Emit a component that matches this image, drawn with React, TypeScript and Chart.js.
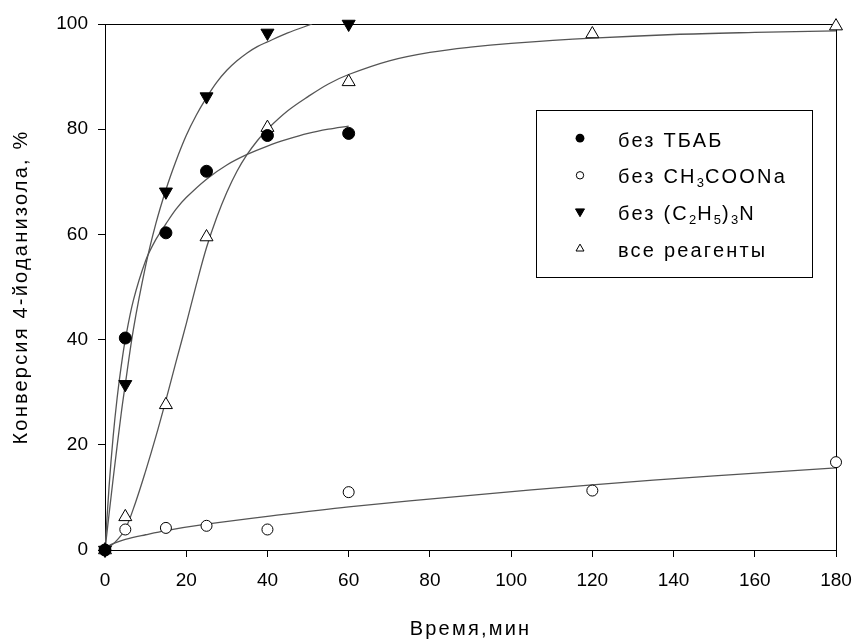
import React, { useEffect, useRef } from "react";
import { Chart, registerables } from "chart.js";

Chart.register(...registerables);

// Measured points
const tbabX = [0, 5, 15, 25, 40, 60];
const tbabY = [0, 40.3, 60.3, 72, 78.8, 79.2];
const acX = [0, 5, 15, 25, 40, 60, 120, 180];
const acY = [0, 3.9, 4.2, 4.6, 3.9, 11, 11.3, 16.7];
const amX = [0, 5, 15, 25, 40, 60];
const amY = [0, 31.5, 68.1, 86.2, 98.3, 100];
const allX = [0, 5, 15, 25, 40, 60, 120, 180];
const allY = [0, 6.3, 27.6, 59.5, 80.3, 89, 98.1, 99.6];

// Fitted curves
const tbabFitX = [0, 1, 2, 3, 4, 5, 7, 10, 12.5, 15, 17.5, 20, 25, 30, 35, 40, 45, 50, 55, 60];
const tbabFitY = [0, 12, 21.5, 29, 35, 40, 47.5, 55, 59, 62, 64.8, 67, 70.5, 73.2, 75.2, 76.8, 78.1, 79.2, 80, 80.6];
const acFitX = [0, 1, 2, 5, 10, 15, 25, 40, 60, 90, 120, 150, 180];
const acFitY = [0, 0.8, 1.2, 2, 2.9, 3.7, 4.9, 6.4, 8.2, 10.4, 12.4, 14.1, 15.6];
const amFitX = [0, 2, 4, 5, 7, 10, 12.5, 15, 17.5, 20, 22.5, 25, 27.5, 30, 32.5, 35, 37.5, 40, 45, 51];
const amFitY = [0, 13.5, 26, 31.5, 42, 54, 62, 68.5, 74, 78.8, 82.7, 86, 88.9, 91.2, 93, 94.5, 95.7, 96.6, 98.3, 100];
const allFitX = [0, 2.5, 5, 7.5, 10, 12.5, 15, 17.5, 20, 22.5, 25, 27.5, 30, 32.5, 35, 37.5, 40, 45, 50, 55, 60, 70, 80, 90, 100, 120, 140, 160, 180];
const allFitY = [0, 1.5, 4, 9, 15, 21.5, 28.5, 35.8, 43, 50.5, 57.5, 63.2, 68, 72, 75.2, 77.8, 80, 83.5, 86.2, 88.6, 90.4, 93, 94.6, 95.6, 96.3, 97.3, 98, 98.4, 98.7];

const xTicks = [0, 20, 40, 60, 80, 100, 120, 140, 160, 180];
const yTicks = [0, 20, 40, 60, 80, 100];

const xTitle = "Время,мин";
const yTitle = "Конверсия 4-йоданизола, %";

const FONT = "'Liberation Sans', Arial, sans-serif";

const zip = (xs: number[], ys: number[]) => xs.map((x, i) => ({ x, y: ys[i] }));

function drawSpaced(ctx: CanvasRenderingContext2D, text: string, x: number, y: number, size: number, spacing: number) {
  ctx.font = `${size}px ${FONT}`;
  (ctx as any).letterSpacing = `${spacing}px`;
  ctx.fillText(text, x, y);
  return ctx.measureText(text).width;
}

function drawRich(ctx: CanvasRenderingContext2D, parts: [string, boolean][], x: number, y: number) {
  let cx = x;
  ctx.textAlign = "left";
  ctx.textBaseline = "alphabetic";
  for (const [t, sub] of parts) {
    if (sub) {
      cx += drawSpaced(ctx, t, cx, y + 4, 13, 1);
    } else {
      cx += drawSpaced(ctx, t, cx, y, 20, 2.2);
    }
  }
}

const framePlugin = {
  id: "frame",
  beforeDatasetsDraw(chart: any) {
    const { ctx, chartArea } = chart;
    ctx.save();
    ctx.strokeStyle = "#000";
    ctx.lineWidth = 1;
    ctx.strokeRect(Math.round(chartArea.left) + 0.5, Math.round(chartArea.top) + 0.5,
      Math.round(chartArea.right - chartArea.left), Math.round(chartArea.bottom - chartArea.top));
    ctx.restore();
  },
  afterDraw(chart: any) {
    const { ctx, chartArea } = chart;
    ctx.save();
    ctx.fillStyle = "#000";
    ctx.textAlign = "center";
    ctx.textBaseline = "middle";
    drawSpaced(ctx, xTitle, (chartArea.left + chartArea.right) / 2, 629, 20, 2.2);
    ctx.save();
    ctx.translate(21, (chartArea.top + chartArea.bottom) / 2);
    ctx.rotate(-Math.PI / 2);
    drawSpaced(ctx, yTitle, 0, 0, 20, 2.2);
    ctx.restore();

    // Legend
    ctx.strokeStyle = "#000";
    ctx.lineWidth = 1;
    ctx.strokeRect(536.5, 110.5, 276, 167);
    const mx = 580;
    const tx = 618;
    const base = [146.7, 183.3, 220, 256.7];
    ctx.beginPath();
    ctx.arc(mx, base[0] - 8.5, 4.4, 0, Math.PI * 2);
    ctx.fillStyle = "#000";
    ctx.fill();
    ctx.beginPath();
    ctx.arc(mx, base[1] - 8, 3.7, 0, Math.PI * 2);
    ctx.fillStyle = "#fff";
    ctx.fill();
    ctx.stroke();
    const tri = (cx: number, cy: number, r: number, down: boolean, fill: string) => {
      ctx.beginPath();
      for (let k = 0; k < 3; k++) {
        const a = (down ? Math.PI / 2 : -Math.PI / 2) + (k * 2 * Math.PI) / 3;
        const px = cx + r * Math.cos(a);
        const py = cy + r * Math.sin(a);
        if (k === 0) ctx.moveTo(px, py); else ctx.lineTo(px, py);
      }
      ctx.closePath();
      ctx.fillStyle = fill;
      ctx.fill();
      ctx.stroke();
    };
    tri(mx, base[2] - 8.5, 5.2, true, "#000");
    tri(mx, base[3] - 8, 4.6, false, "#fff");

    ctx.fillStyle = "#000";
    drawRich(ctx, [["без ТБАБ", false]], tx, base[0]);
    drawRich(ctx, [["без CH", false], ["3", true], ["COONa", false]], tx, base[1]);
    drawRich(ctx, [["без (C", false], ["2", true], ["H", false], ["5", true], [")", false], ["3", true], ["N", false]], tx, base[2]);
    drawRich(ctx, [["все реагенты", false]], tx, base[3]);
    ctx.restore();
  },
};

export default function App() {
  const ref = useRef<HTMLCanvasElement | null>(null);
  useEffect(() => {
    if (!ref.current) return;
    const curve = (xs: number[], ys: number[]) => ({
      type: "line" as const,
      data: zip(xs, ys),
      borderColor: "#555555",
      borderWidth: 1.3,
      pointRadius: 0,
      fill: false,
      tension: 0.35,
      order: 2,
    });
    const pts = (xs: number[], ys: number[], style: string, rot: number, bg: string, r: number) => ({
      type: "line" as const,
      data: zip(xs, ys),
      showLine: false,
      pointStyle: style,
      rotation: rot,
      pointRadius: r,
      pointBackgroundColor: bg,
      pointBorderColor: "#000",
      pointBorderWidth: 1,
      clip: false as any,
      order: 1,
    });
    const chart = new Chart(ref.current, {
      type: "line",
      data: {
        datasets: [
          pts(tbabX, tbabY, "circle", 0, "#000", 6),
          pts(acX, acY, "circle", 0, "#fff", 5.5),
          pts(amX, amY, "triangle", 180, "#000", 7.5),
          pts(allX, allY, "triangle", 0, "#fff", 7.5),
          curve(tbabFitX, tbabFitY),
          curve(acFitX, acFitY),
          curve(amFitX, amFitY),
          curve(allFitX, allFitY),
        ] as any,
      },
      options: {
        animation: false,
        responsive: false,
        layout: { padding: { left: 0, right: 19, top: 24, bottom: 0 } },
        plugins: { legend: { display: false }, tooltip: { enabled: false } },
        scales: {
          x: {
            type: "linear",
            min: 0,
            max: 180,
            afterBuildTicks: (s: any) => { s.ticks = xTicks.map((v) => ({ value: v })); },
            afterFit: (s: any) => { s.height = 89; s.paddingLeft = 0; s.paddingRight = 0; },
            grid: { drawOnChartArea: false, drawTicks: true, tickLength: 7, color: "#000" },
            border: { display: true, color: "#000", width: 1 },
            ticks: { color: "#000", font: { family: FONT, size: 19 }, padding: 12, maxRotation: 0 },
          },
          y: {
            type: "linear",
            min: 0,
            max: 100,
            afterBuildTicks: (s: any) => { s.ticks = yTicks.map((v) => ({ value: v })); },
            afterFit: (s: any) => { s.width = 105; s.paddingTop = 0; s.paddingBottom = 0; },
            grid: { drawOnChartArea: false, drawTicks: true, tickLength: 7, color: "#000" },
            border: { display: true, color: "#000", width: 1 },
            ticks: { color: "#000", font: { family: FONT, size: 19 }, padding: 10 },
          },
        },
      },
      plugins: [framePlugin],
    });
    return () => chart.destroy();
  }, []);
  return (
    <div style={{ position: "absolute", left: 0, top: 0, width: 855, height: 639, background: "#fff" }}>
      <canvas ref={ref} width={855} height={639} style={{ display: "block" }} />
    </div>
  );
}
